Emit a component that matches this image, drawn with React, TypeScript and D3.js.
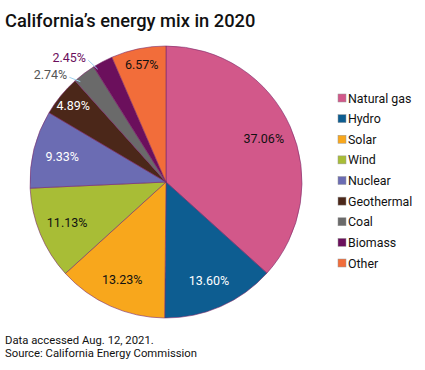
import React from "react";
import * as d3 from "d3";

const categories = ["Natural gas", "Hydro", "Solar", "Wind", "Nuclear", "Geothermal", "Coal", "Biomass", "Other"];
const values = [37.06, 13.6, 13.23, 11.13, 9.33, 4.89, 2.74, 2.45, 6.57];
const colors = ["#d2588a", "#0d5d91", "#f8a71c", "#a8bd36", "#6b6cb3", "#4b2719", "#6a6a6a", "#6b0f5c", "#f26d3a"];
const labelColors = ["#111", "#fff", "#111", "#111", "#fff", "#fff", "#555", "#6b0f5c", "#111"];
const outsideLabels = ["Coal", "Biomass"];

const W = 425, H = 370;
const cx = 166, cy = 182, R = 136;

export default function App() {
  const pie = d3.pie<number>().sort(null).value((d) => d);
  const arcs = pie(values);
  const arc = d3.arc<d3.PieArcDatum<number>>().innerRadius(0).outerRadius(R);
  const fmt = (v: number) => v.toFixed(2) + "%";
  const font = "Roboto, 'Liberation Sans', sans-serif";

  const legendY = d3.scalePoint<string>().domain(categories).range([98, 263]);

  return (
    <svg width={W} height={H} style={{ position: "absolute", left: 0, top: 0 }} fontFamily={font}>
      <rect width={W} height={H} fill="#fff" />
      <text x={5} y={27} fontSize={18.3} fontWeight={500} fill="#111">California’s energy mix in 2020</text>
      <g transform={`translate(${cx},${cy})`}>
        {arcs.map((a, i) => (
          <path key={i} d={arc(a) || ""} fill={colors[i]} stroke="#7a2a6a" strokeWidth={0.6} />
        ))}
        {arcs.map((a, i) => {
          const mid = (a.startAngle + a.endAngle) / 2;
          const outside = outsideLabels.includes(categories[i]);
          const frac = (a.endAngle - a.startAngle) / (2 * Math.PI);
          if (outside) {
            const ang = mid - (10 * Math.PI) / 180;
            const r = 158;
            const lx = r * Math.sin(ang), ly = -r * Math.cos(ang);
            const ex = lx + 18, ey = ly + 3;
            const px = (R - 4) * Math.sin(mid - 0.06), py = -(R - 4) * Math.cos(mid - 0.06);
            return (
              <g key={"l" + i}>
                <line x1={ex + 1} y1={ey} x2={px} y2={py} stroke="#9fd3ef" strokeWidth={1} />
                <text x={lx} y={ly} textAnchor="middle" dominantBaseline="central" fontSize={12.5} fill={labelColors[i]}>{fmt(values[i])}</text>
              </g>
            );
          }
          const r = frac < 0.07 ? 120 : 107;
          const lx = r * Math.sin(mid), ly = -r * Math.cos(mid);
          return (
            <text key={"l" + i} x={lx} y={ly} textAnchor="middle" dominantBaseline="central" fontSize={12.5} fill={labelColors[i]}>{fmt(values[i])}</text>
          );
        })}
      </g>
      <g>
        {categories.map((c, i) => (
          <g key={c} transform={`translate(338,${legendY(c)})`}>
            <rect x={0} y={-4} width={8} height={8} fill={colors[i]} stroke="#999" strokeWidth={0.5} />
            <text x={10} y={0} dominantBaseline="central" fontSize={12.4} fill="#111">{c}</text>
          </g>
        ))}
      </g>
      <text x={5} y={344} fontSize={11.3} fill="#111">Data accessed Aug. 12, 2021.</text>
      <text x={5} y={357} fontSize={11.3} fill="#111">Source: California Energy Commission</text>
    </svg>
  );
}
